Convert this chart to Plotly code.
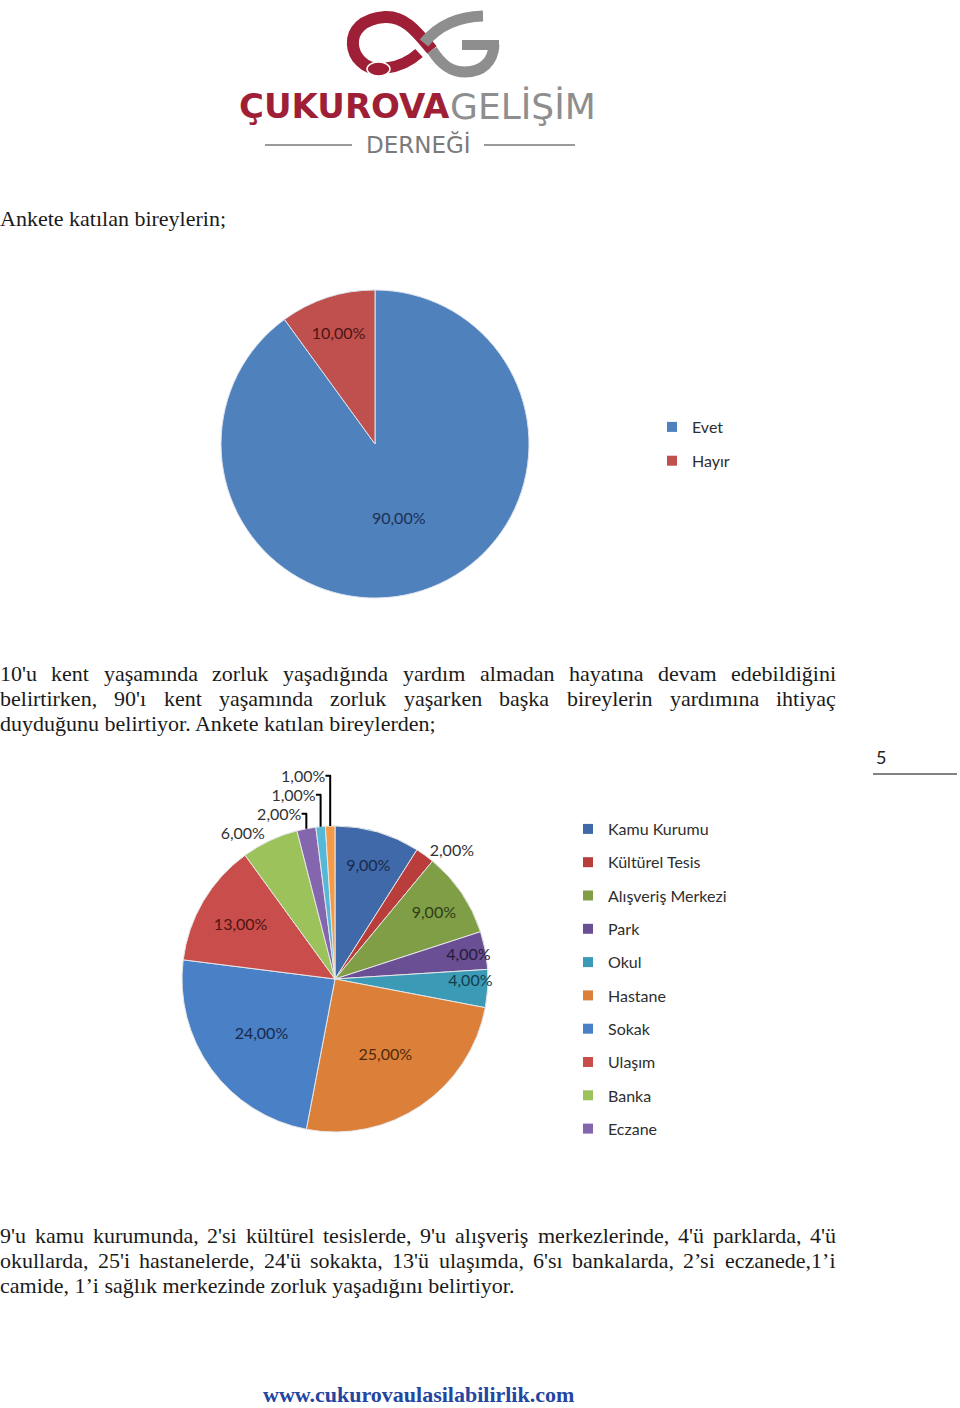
import plotly.graph_objects as go

W, H = 960, 1408

# ---------------- data ----------------
q1_labels = ["Evet", "Hayır"]
q1_values = [90, 10]
q1_colors = ["#4f81bd", "#c0504d"]
q1_text_colors = ["#1c2f55", "#4d1514"]

q2_labels = ["Kamu Kurumu", "Kültürel Tesis", "Alışveriş Merkezi", "Park", "Okul",
             "Hastane", "Sokak", "Ulaşım", "Banka", "Eczane", "Cami", "Sağlık Merkezi"]
q2_values = [9, 2, 9, 4, 4, 25, 24, 13, 6, 2, 1, 1]
q2_colors = ["#3f69a8", "#b83d3b", "#7f9e46", "#6a4f94", "#3b9ab6", "#db7f39",
             "#4a80c6", "#c94d4a", "#9cc25b", "#8466ae", "#56b8d8", "#f59b47"]
q2_text_colors = ["#17294d", "#333333", "#2f3d16", "#251a3a", "#123f4c", "#4f2a0c",
                  "#17294d", "#4d1514", "#333333", "#333333", "#333333", "#333333"]
q2_textpos = ["inside", "outside", "inside", "inside", "inside", "inside",
              "inside", "inside", "outside", "outside", "outside", "outside"]
q2_legend_count = 10

# ---------------- text content ----------------
heading = "Ankete katılan bireylerin;"
# (line text, justified?)
p1_lines = [
    ("10'u kent yaşamında zorluk yaşadığında yardım almadan hayatına devam edebildiğini", True),
    ("belirtirken, 90'ı kent yaşamında zorluk yaşarken başka bireylerin yardımına ihtiyaç", True),
    ("duyduğunu belirtiyor. Ankete katılan bireylerden;", False),
]
p2_lines = [
    ("9'u kamu kurumunda, 2'si kültürel tesislerde, 9'u alışveriş merkezlerinde, 4'ü parklarda, 4'ü", True),
    ("okullarda, 25'i hastanelerde, 24'ü sokakta, 13'ü ulaşımda, 6'sı bankalarda, 2’si eczanede,1’i", True),
    ("camide, 1’i sağlık merkezinde zorluk yaşadığını belirtiyor.", False),
]
footer = "www.cukurovaulasilabilirlik.com"

# Times / Liberation Serif advance widths (per 1000 em) for justification
TIMES_W = {
    "a": 444, "b": 500, "c": 444, "d": 500, "e": 444, "f": 333, "g": 500, "h": 500,
    "i": 278, "j": 278, "k": 500, "l": 278, "m": 778, "n": 500, "o": 500, "p": 500,
    "q": 500, "r": 333, "s": 389, "t": 278, "u": 500, "v": 500, "w": 722, "x": 500,
    "y": 500, "z": 444, "ı": 278, "ş": 389, "ğ": 500, "ü": 500, "ç": 444, "ö": 500,
    "A": 722, "I": 333, "İ": 333, ",": 250, ".": 250, ";": 278, "'": 180, "’": 333,
    " ": 250,
}

def word_width(word, size):
    return sum(TIMES_W.get(c, 500) for c in word) * size / 1000.0

# ---------------- helpers ----------------
def px_x(x):
    return x / W

def px_y(y):
    return 1 - y / H

def pie_domain(cx, cy, r):
    return dict(x=[px_x(cx - r), px_x(cx + r)], y=[px_y(cy + r), px_y(cy - r)])

fig = go.Figure()

LABEL_FONT = "Lato"

fig.add_trace(go.Pie(
    labels=q1_labels, values=q1_values, sort=False, direction="clockwise", rotation=0,
    marker=dict(colors=q1_colors, line=dict(color="#dde4ee", width=1)),
    texttemplate="%{percent:.2%}", textposition="inside",
    insidetextorientation="horizontal",
    textfont=dict(family=LABEL_FONT, size=16, color=q1_text_colors),
    domain=pie_domain(375, 444, 154), showlegend=False, hoverinfo="skip",
))

fig.add_trace(go.Pie(
    labels=q2_labels, values=q2_values, sort=False, direction="clockwise", rotation=0,
    marker=dict(colors=q2_colors, line=dict(color="#e6e6e6", width=1)),
    texttemplate="%{percent:.2%}", textposition=q2_textpos,
    insidetextorientation="horizontal",
    textfont=dict(family=LABEL_FONT, size=16, color=q2_text_colors),
    domain=pie_domain(335, 979, 153), showlegend=False, hoverinfo="skip",
))

# legend entries (legend 1 and legend 2)
for lab, col in zip(q1_labels, q1_colors):
    fig.add_trace(go.Scatter(x=[None], y=[None], mode="markers", name=lab,
                             marker=dict(symbol="square", size=10, color=col),
                             legend="legend", legendgroup="a" + lab, showlegend=True))
for lab, col in zip(q2_labels[:q2_legend_count], q2_colors[:q2_legend_count]):
    fig.add_trace(go.Scatter(x=[None], y=[None], mode="markers", name=lab,
                             marker=dict(symbol="square", size=10, color=col),
                             legend="legend2", legendgroup="b" + lab, showlegend=True))

annotations = []
shapes = []

BODY = 22

def text(x, y, s, size=BODY, family="Liberation Serif", color="#1a1a1a",
         xanchor="left", bold=False):
    dx = {"left": -2, "right": 2, "center": 0}[xanchor]
    annotations.append(dict(
        x=px_x(x + dx), y=px_y(y), xref="paper", yref="paper",
        text=("<b>%s</b>" % s) if bold else s,
        showarrow=False, xanchor=xanchor, yanchor="middle",
        font=dict(family=family, size=size, color=color)))

# ---------------- logo ----------------
RED = "#9e1f36"
GRAY = "#8e8e8e"
shapes += [
    dict(type="path", xref="x", yref="y",
         path="M 380 69 C 348 69, 338 20, 385 17 C 405 16, 417 32, 432 50",
         line=dict(color=RED, width=12)),
    dict(type="path", xref="x", yref="y",
         path="M 386 68 Q 405 66, 419 53", line=dict(color=RED, width=11)),
    dict(type="path", xref="x", yref="y",
         path="M 424 43 Q 445 17, 483 16", line=dict(color=GRAY, width=11)),
    dict(type="path", xref="x", yref="y",
         path="M 432 50 C 442 66, 452 72, 465 72 C 482 72, 493 62, 494 45",
         line=dict(color=GRAY, width=11)),
    dict(type="path", xref="x", yref="y", path="M 462 45 L 499 45",
         line=dict(color=GRAY, width=10)),
    dict(type="circle", xref="x", yref="y", x0=367, x1=390, y0=62, y1=76,
         fillcolor=RED, line=dict(color="white", width=1.5)),
    dict(type="line", xref="x", yref="y", x0=265, x1=352, y0=145, y1=145,
         line=dict(color="#9a9a9a", width=2)),
    dict(type="line", xref="x", yref="y", x0=484, x1=575, y0=145, y1=145,
         line=dict(color="#9a9a9a", width=2)),
]
text(450, 106, "<b>ÇUKUROVA</b>", size=34, family="DejaVu Sans", color=RED, xanchor="right")
text(450, 106, "GELİŞİM", size=36, family="DejaVu Sans", color=GRAY, xanchor="left")
text(418, 144, "DERNEĞİ", size=23, family="DejaVu Sans", color="#7a7a7a", xanchor="center")

# ---------------- body text ----------------
RIGHT = 836
text(0, 219, heading)

def paragraph(lines, y0, dy=25):
    for i, (content, justify) in enumerate(lines):
        y = y0 + i * dy
        if not justify:
            text(0, y, content)
            continue
        words = content.split(" ")
        widths = [word_width(w, BODY) for w in words]
        gap = (RIGHT - sum(widths)) / (len(words) - 1)
        x = 0.0
        for j, (w, ww) in enumerate(zip(words, widths)):
            if j == len(words) - 1:
                text(RIGHT, y, w, xanchor="right")
            else:
                text(x, y, w)
            x += ww + gap

paragraph(p1_lines, 673)
paragraph(p2_lines, 1235)

# page number
text(881, 757, "5", size=18, family="Lato", color="#222222", xanchor="center")
shapes.append(dict(type="line", xref="x", yref="y", x0=873, x1=957, y0=774, y1=774,
                   line=dict(color="#5a5a5a", width=1.5)))

# footer
text(418, 1394, footer, size=22, family="Liberation Serif", color="#2445a0",
     xanchor="center", bold=True)

legend_common = dict(bgcolor="rgba(0,0,0,0)", borderwidth=0, traceorder="grouped",
                     xanchor="left", yanchor="top",
                     font=dict(family=LABEL_FONT, size=16, color="#2e2e2e"),
                     itemclick=False, itemdoubleclick=False)

fig.update_layout(
    width=W, height=H, margin=dict(l=0, r=0, t=0, b=0),
    paper_bgcolor="white", plot_bgcolor="white",
    separators=", ",
    showlegend=True,
    uniformtext=dict(minsize=15, mode="show"),
    xaxis=dict(range=[0, W], visible=False, fixedrange=True, domain=[0, 1]),
    yaxis=dict(range=[H, 0], visible=False, fixedrange=True, domain=[0, 1]),
    legend=dict(x=px_x(652), y=px_y(410), tracegroupgap=10, **legend_common),
    legend2=dict(x=px_x(568), y=px_y(812), tracegroupgap=9.5, **legend_common),
    annotations=annotations, shapes=shapes,
)

fig.write_html("out.html")
